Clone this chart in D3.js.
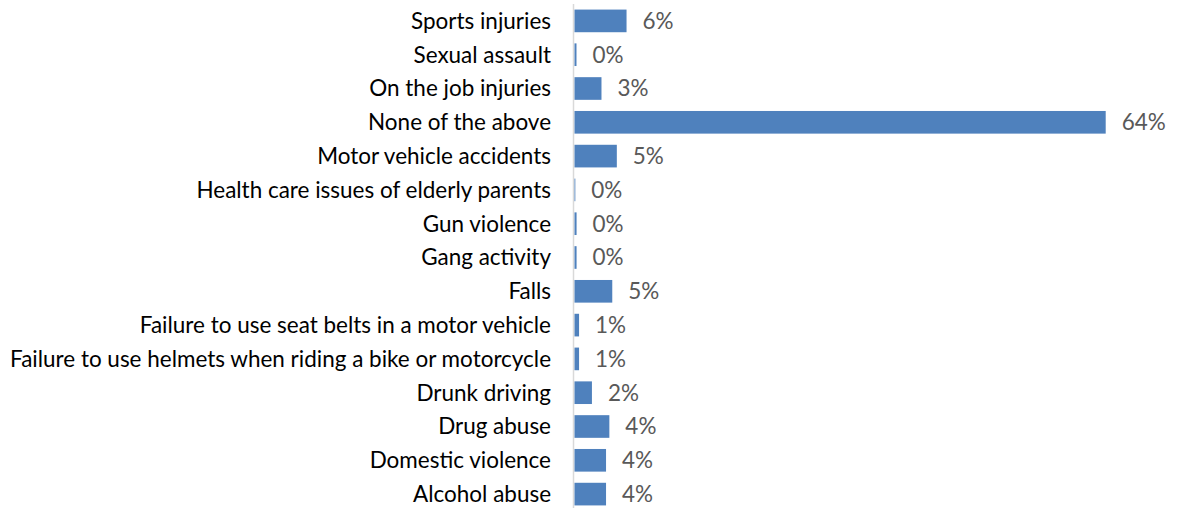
<!DOCTYPE html>
<html><head><meta charset="utf-8">
<script src="https://cdn.jsdelivr.net/npm/d3@7"></script>
<style>body{margin:0;background:#fff;}svg{display:block;}</style>
</head><body>
<svg id="c" width="1178" height="508"></svg>
<script>
const categories = ["Sports injuries","Sexual assault","On the job injuries","None of the above","Motor vehicle accidents","Health care issues of elderly parents","Gun violence","Gang activity","Falls","Failure to use seat belts in a motor vehicle","Failure to use helmets when riding a bike or motorcycle","Drunk driving","Drug abuse","Domestic violence","Alcohol abuse"];
const values = [6.27, 0.24, 3.25, 64, 5.1, 0.1, 0.25, 0.25, 4.55, 0.55, 0.55, 2.1, 4.2, 3.8, 3.8];
const valueLabels = ["6%","0%","3%","64%","5%","0%","0%","0%","5%","1%","1%","2%","4%","4%","4%"];

const svg = d3.select("#c");
const x0 = 574.5, xMax = 1105.7;
const x = d3.scaleLinear().domain([0, 64]).range([x0, xMax]);
const y = d3.scaleBand().domain(categories).range([4, 511]).paddingInner(0.33).paddingOuter(0.165);
const font = "Lato, 'Open Sans', sans-serif";

// category labels
const labels = svg.append("g").selectAll("text").data(categories).join("text")
  .attr("x", 551).attr("y", d => y(d) + y.bandwidth()/2).attr("dy", "0.35em")
  .attr("text-anchor", "end").attr("fill", "#000")
  .style("font-family", font).style("font-size", "20px").text(d => d);
// fit longest label to reference width
let maxW = 0; labels.each(function(){ maxW = Math.max(maxW, this.getComputedTextLength()); });
const fs = 20 * 541 / maxW;
labels.style("font-size", fs + "px");

// axis line
svg.append("line").attr("x1", 573.5).attr("x2", 573.5).attr("y1", 4).attr("y2", 508)
  .attr("stroke", "#d9d9d9").attr("stroke-width", 1.5);

// bars
svg.append("g").selectAll("rect").data(values).join("rect")
  .attr("x", x(0)).attr("y", (d,i) => y(categories[i]))
  .attr("width", d => x(d) - x(0)).attr("height", y.bandwidth())
  .attr("fill", "#4F81BD");

// value labels
svg.append("g").selectAll("text").data(values).join("text")
  .attr("x", d => x(d) + 16).attr("y", (d,i) => y(categories[i]) + y.bandwidth()/2).attr("dy", "0.35em")
  .attr("fill", "#595959").style("font-family", font).style("font-size", fs + "px")
  .text((d,i) => valueLabels[i]);
</script>
</body></html>
